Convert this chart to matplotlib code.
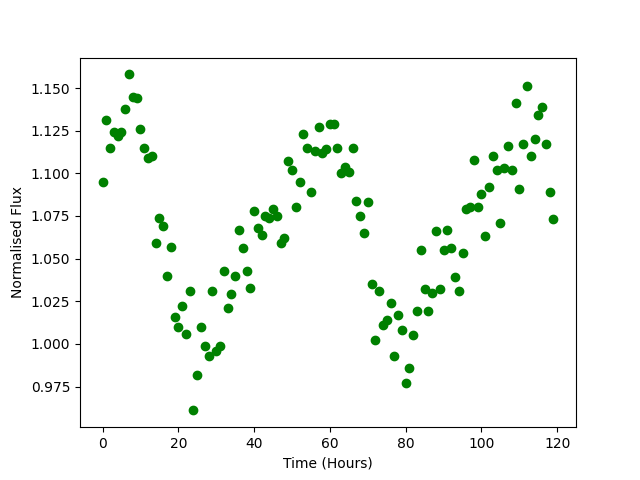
import numpy as np
import matplotlib
matplotlib.use('Agg')
import matplotlib.pyplot as plt

# time in hours
time = np.arange(120)

# normalised flux
flux = [1.095, 1.131, 1.115, 1.124, 1.122, 1.124, 1.138, 1.158, 1.145, 1.144,
        1.126, 1.115, 1.109, 1.110, 1.059, 1.074, 1.069, 1.040, 1.057, 1.016,
        1.010, 1.022, 1.006, 1.031, 0.961, 0.982, 1.010, 0.999, 0.993, 1.031,
        0.996, 0.999, 1.043, 1.021, 1.029, 1.040, 1.067, 1.056, 1.043, 1.033,
        1.078, 1.068, 1.064, 1.075, 1.074, 1.079, 1.075, 1.059, 1.062, 1.107,
        1.102, 1.080, 1.095, 1.123, 1.115, 1.089, 1.113, 1.127, 1.112, 1.114,
        1.129, 1.129, 1.115, 1.100, 1.104, 1.101, 1.115, 1.084, 1.075, 1.065,
        1.083, 1.035, 1.002, 1.031, 1.011, 1.014, 1.024, 0.993, 1.017, 1.008,
        0.977, 0.986, 1.005, 1.019, 1.055, 1.032, 1.019, 1.030, 1.066, 1.032,
        1.055, 1.067, 1.056, 1.039, 1.031, 1.053, 1.079, 1.080, 1.108, 1.080,
        1.088, 1.063, 1.092, 1.110, 1.102, 1.071, 1.103, 1.116, 1.102, 1.141,
        1.091, 1.117, 1.151, 1.110, 1.120, 1.134, 1.139, 1.117, 1.089, 1.073]

plt.figure(figsize=(6.4, 4.8), dpi=100)
plt.plot(time, flux, 'o', color='green')
plt.xlabel('Time (Hours)')
plt.ylabel('Normalised Flux')
plt.savefig('out.png')
